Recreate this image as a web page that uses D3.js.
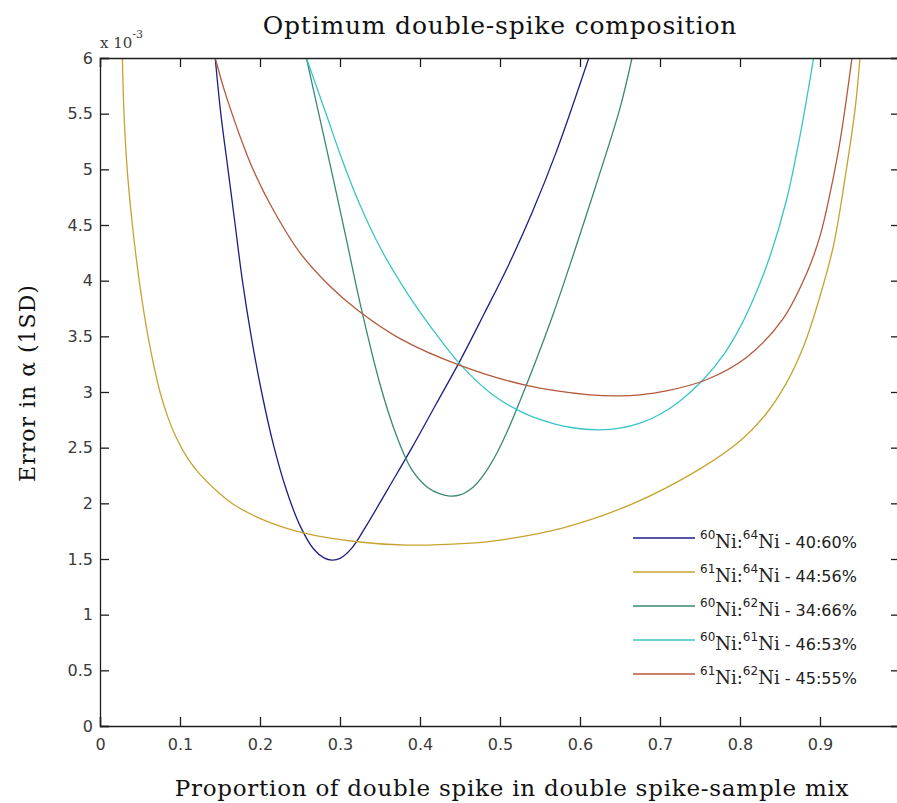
<!DOCTYPE html>
<html>
<head>
<meta charset="utf-8">
<script src="https://cdn.jsdelivr.net/npm/d3@7/dist/d3.min.js"></script>
<style>
  html, body { margin: 0; padding: 0; background: #fff; }
  svg { display: block; }
</style>
</head>
<body>
<svg id="chart" width="897" height="803"></svg>
<script>
// Error in alpha (x 1e-3) against the proportion of double spike in the mix
const xTicks = [0, 0.1, 0.2, 0.3, 0.4, 0.5, 0.6, 0.7, 0.8, 0.9, 1];
const xTickLabels = ["0", "0.1", "0.2", "0.3", "0.4", "0.5", "0.6", "0.7", "0.8", "0.9", ""];
const yTicks = [0, 0.5, 1, 1.5, 2, 2.5, 3, 3.5, 4, 4.5, 5, 5.5, 6];

const seriesNames = ["60:64", "61:64", "60:62", "60:61", "61:62"];
const seriesIsotopes = [["60", "64"], ["61", "64"], ["60", "62"], ["60", "61"], ["61", "62"]];
const seriesRatios = ["40:60%", "44:56%", "34:66%", "46:53%", "45:55%"];
const seriesColors = ["#1e1e80", "#c8a230", "#3a8876", "#38c4c6", "#b4583a"];

// [proportion, error x 1e-3]
const ni60ni64 = [[0.144,6.0],[0.151,5.5],[0.160,5.0],[0.169,4.5],[0.178,4.0],[0.189,3.5],[0.202,3.0],[0.217,2.52],[0.233,2.12],[0.25,1.80],[0.267,1.59],[0.28,1.51],[0.29,1.49],[0.30,1.505],[0.315,1.60],[0.333,1.80],[0.36,2.13],[0.39,2.50],[0.42,2.89],[0.45,3.28],[0.48,3.70],[0.51,4.13],[0.54,4.61],[0.57,5.15],[0.611,6.0]];
const ni61ni64 = [[0.028,6.0],[0.030,5.5],[0.034,5.0],[0.0405,4.5],[0.049,4.0],[0.060,3.5],[0.075,3.0],[0.085,2.77],[0.096,2.58],[0.11,2.40],[0.125,2.26],[0.146,2.11],[0.167,1.99],[0.208,1.84],[0.254,1.735],[0.321,1.655],[0.383,1.625],[0.458,1.64],[0.5,1.67],[0.579,1.78],[0.667,2.0],[0.75,2.31],[0.8,2.56],[0.83,2.78],[0.858,3.08],[0.88,3.42],[0.9,3.86],[0.917,4.32],[0.933,5.0],[0.944,5.55],[0.95,6.0]];
const ni60ni62 = [[0.258,6.0],[0.275,5.45],[0.292,4.9],[0.308,4.37],[0.325,3.8],[0.35,3.07],[0.37,2.62],[0.39,2.3],[0.41,2.14],[0.425,2.085],[0.4375,2.065],[0.45,2.075],[0.467,2.15],[0.48,2.26],[0.496,2.45],[0.51,2.66],[0.525,2.92],[0.54,3.19],[0.567,3.71],[0.592,4.24],[0.621,4.88],[0.65,5.55],[0.665,6.0]];
const ni60ni61 = [[0.258,6.0],[0.283,5.49],[0.304,5.06],[0.325,4.68],[0.35,4.3],[0.383,3.9],[0.415,3.57],[0.45,3.25],[0.49,2.98],[0.53,2.81],[0.57,2.71],[0.60,2.67],[0.625,2.66],[0.65,2.675],[0.675,2.72],[0.70,2.8],[0.725,2.92],[0.754,3.11],[0.78,3.34],[0.8,3.58],[0.82,3.89],[0.838,4.23],[0.858,4.72],[0.875,5.3],[0.892,6.0]];
const ni61ni62 = [[0.144,6.0],[0.155,5.72],[0.166,5.48],[0.18,5.2],[0.1925,4.98],[0.217,4.63],[0.25,4.25],[0.2875,3.95],[0.323,3.73],[0.375,3.48],[0.45,3.24],[0.533,3.06],[0.6125,2.975],[0.65,2.965],[0.675,2.975],[0.708,3.01],[0.758,3.11],[0.808,3.31],[0.854,3.66],[0.883,4.06],[0.9,4.4],[0.913,4.8],[0.925,5.25],[0.94,6.0]];

const seriesData = [ni60ni64, ni61ni64, ni60ni62, ni60ni61, ni61ni62];

const svg = d3.select("#chart");
const margin = { left: 100, top: 58, right: 900, bottom: 726 };

const x = d3.scaleLinear().domain([0, 1]).range([margin.left, margin.right]);
const y = d3.scaleLinear().domain([0, 6]).range([margin.bottom, margin.top]);

const axisColor = "#1e1e1e";
const tickFont = "'DejaVu Sans', sans-serif";
const serifFont = "'DejaVu Serif', serif";

svg.append("defs").append("clipPath").attr("id", "plotClip")
  .append("rect")
  .attr("x", margin.left).attr("y", margin.top)
  .attr("width", margin.right - margin.left).attr("height", margin.bottom - margin.top);

// curves
const line = d3.line()
  .x(d => x(d[0]))
  .y(d => y(d[1]))
  .curve(d3.curveCatmullRom.alpha(0.5));

const curves = svg.append("g").attr("clip-path", "url(#plotClip)");
seriesData.forEach((data, i) => {
  curves.append("path")
    .datum(data)
    .attr("d", line)
    .attr("fill", "none")
    .attr("stroke", seriesColors[i])
    .attr("stroke-width", 1.3);
});

// axes: ticks point inward on all four sides
const tickLen = 9;
function styleAxis(g) {
  g.selectAll(".domain").attr("stroke", axisColor).attr("stroke-width", 1.3);
  g.selectAll(".tick line").attr("stroke", axisColor).attr("stroke-width", 1.3);
  g.selectAll(".tick text")
    .attr("fill", "#3a3a3a")
    .style("font-family", tickFont)
    .style("font-size", "16px");
}

svg.append("g")
  .attr("transform", `translate(0,${margin.bottom})`)
  .call(d3.axisBottom(x).tickValues(xTicks).tickSize(-tickLen).tickPadding(13)
    .tickFormat((d, i) => xTickLabels[i]))
  .call(styleAxis);

svg.append("g")
  .attr("transform", `translate(0,${margin.top})`)
  .call(d3.axisTop(x).tickValues(xTicks).tickSize(-tickLen).tickFormat(""))
  .call(styleAxis);

svg.append("g")
  .attr("transform", `translate(${margin.left},0)`)
  .call(d3.axisLeft(y).tickValues(yTicks).tickSize(-tickLen).tickPadding(7).tickFormat(d3.format("")))
  .call(styleAxis);

svg.append("g")
  .attr("transform", `translate(${margin.right},0)`)
  .call(d3.axisRight(y).tickValues(yTicks).tickSize(-tickLen).tickFormat(""))
  .call(styleAxis);

// exponent marker above the y axis
const expo = svg.append("text")
  .attr("x", margin.left).attr("y", 48)
  .attr("fill", "#3a3a3a")
  .style("font-family", serifFont)
  .style("font-size", "15px");
expo.append("tspan").text("x 10");
expo.append("tspan").attr("dy", -10).style("font-size", "11px").text("-3");

// title
svg.append("text")
  .attr("x", 500).attr("y", 34)
  .attr("text-anchor", "middle")
  .attr("fill", "#111")
  .style("font-family", serifFont)
  .style("font-size", "25px")
  .style("letter-spacing", "0.8px")
  .text("Optimum double-spike composition");

// axis titles
svg.append("text")
  .attr("x", 512).attr("y", 796)
  .attr("text-anchor", "middle")
  .attr("fill", "#111")
  .style("font-family", serifFont)
  .style("font-size", "23px")
  .style("letter-spacing", "0.75px")
  .text("Proportion of double spike in double spike-sample mix");

svg.append("text")
  .attr("transform", "translate(35,383) rotate(-90)")
  .attr("text-anchor", "middle")
  .attr("fill", "#111")
  .style("font-family", serifFont)
  .style("font-size", "22px")
  .style("letter-spacing", "1px")
  .text("Error in α (1SD)");

// legend
const legendTop = 538;
const legendStep = 34;
const legend = svg.append("g");
seriesNames.forEach((name, i) => {
  const ly = legendTop + i * legendStep;
  legend.append("line")
    .attr("x1", 633).attr("x2", 695)
    .attr("y1", ly).attr("y2", ly)
    .attr("stroke", seriesColors[i])
    .attr("stroke-width", 1.3);
  const t = legend.append("text")
    .attr("x", 700).attr("y", ly + 10)
    .attr("fill", "#222")
    .style("font-family", tickFont)
    .style("font-size", "16px");
  const [a, b] = seriesIsotopes[i];
  t.append("tspan").attr("dy", -9).style("font-size", "12px").text(a);
  t.append("tspan").attr("dy", 9).style("font-family", serifFont).style("font-size", "18px").text("Ni:");
  t.append("tspan").attr("dy", -9).style("font-size", "12px").text(b);
  t.append("tspan").attr("dy", 9).style("font-family", serifFont).style("font-size", "18px").text("Ni");
  t.append("tspan").text(" - " + seriesRatios[i]);
});
</script>
</body>
</html>
